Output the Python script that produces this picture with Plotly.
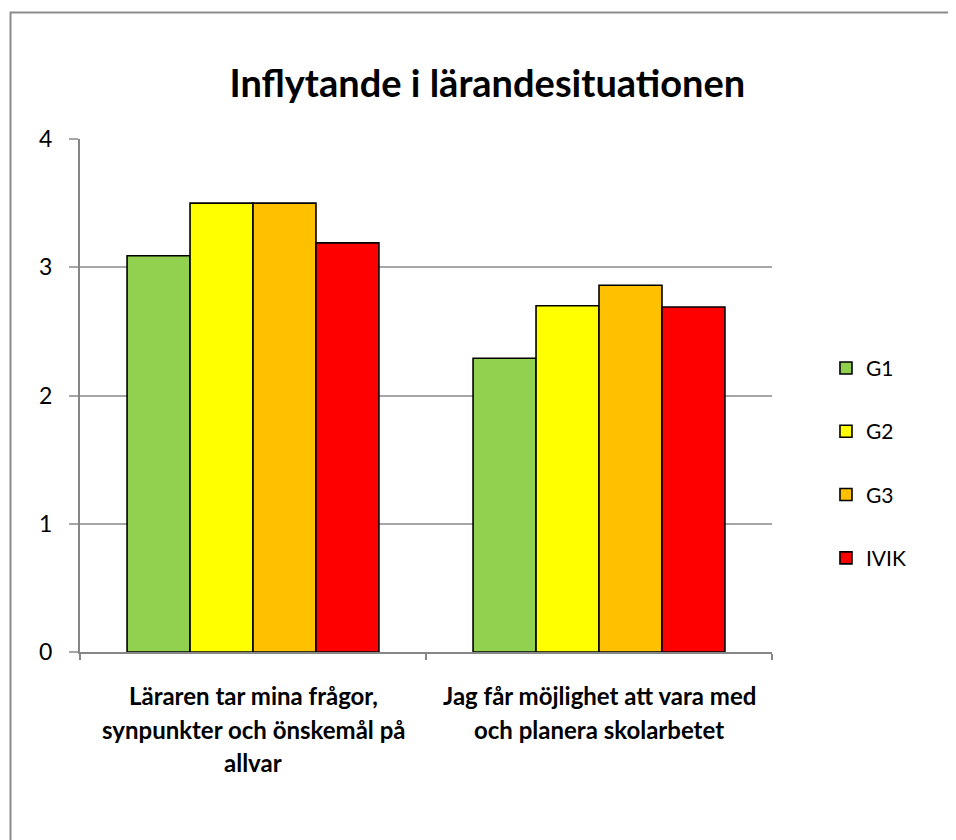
import plotly.graph_objects as go

# data
categories = ["Läraren tar mina frågor, synpunkter och önskemål på allvar",
              "Jag får möjlighet att vara med och planera skolarbetet"]
category_lines = [["Läraren tar mina frågor,", "synpunkter och önskemål på", "allvar"],
                  ["Jag får möjlighet att vara med", "och planera skolarbetet"]]
groups = ["G1", "G2", "G3", "IVIK"]
g1 = [3.09, 2.29]
g2 = [3.50, 2.70]
g3 = [3.50, 2.86]
ivik = [3.19, 2.69]
y_ticks = [0, 1, 2, 3, 4]

colors = ["#92D050", "#FFFF00", "#FFC000", "#FF0000"]
FONT = "Lato, Open Sans, sans-serif"

# page has an 8px body margin, so the figure is shifted
L, T = 71.5, 131.3
PW, PH = 692.2, 512.4

fig = go.Figure()
for name, vals, col in zip(groups, [g1, g2, g3, ivik], colors):
    fig.add_trace(go.Bar(
        x=categories, y=vals, name=name, legendgroup=name,
        marker=dict(color=col, line=dict(color="black", width=1.6)),
    ))

# category labels, one annotation per line (Excel-like line spacing)
annotations = []
line_y = [695, 729, 762]  # page y of each line
for cat, lines in zip(categories, category_lines):
    for i, txt in enumerate(lines):
        annotations.append(dict(
            x=cat, xref="x", y=(651.7 - line_y[i]) / PH, yref="paper",
            text=txt, showarrow=False, xanchor="center", yanchor="middle",
            font=dict(family=FONT, size=24, color="black", weight="bold"),
        ))

fig.update_layout(
    width=956, height=840,
    margin=dict(l=L, r=956 - L - PW, t=T, b=840 - T - PH),
    paper_bgcolor="white", plot_bgcolor="white",
    title=dict(text="<b>Inflytande i lärandesituationen</b>",
               x=(487 - 79.5) / PW, xref="paper", xanchor="center",
               y=1 - 76 / 840, yanchor="middle",
               font=dict(family=FONT, size=38, color="black")),
    font=dict(family=FONT, size=20, color="black"),
    barmode="group", bargap=0.272, bargroupgap=0,
    showlegend=True,
    legend=dict(x=1.078, xanchor="left", y=0.593, yanchor="top",
                tracegroupgap=33, font=dict(size=21),
                bgcolor="rgba(0,0,0,0)"),
    annotations=annotations,
    shapes=[dict(type="rect", xref="paper", yref="paper",
                 x0=(10 - 79.5) / PW, x1=1.6,
                 y0=-0.6, y1=(651.7 - 13) / PH,
                 line=dict(color="#8c8c8c", width=2), layer="below")],
)

fig.update_xaxes(
    showticklabels=False, tickson="boundaries", ticks="outside", ticklen=6,
    tickcolor="#868686", tickwidth=2,
    showline=True, linecolor="#868686", linewidth=2, showgrid=False,
)
fig.update_yaxes(
    range=[0, 4], tickvals=y_ticks, ticks="outside", ticklen=9,
    tickcolor="#a6a6a6", tickwidth=2, ticklabelstandoff=12,
    showline=True, linecolor="#868686", linewidth=2,
    showgrid=True, gridcolor="#a6a6a6", gridwidth=2,
    zeroline=False, tickfont=dict(size=23),
)

fig.write_html("out.html")
